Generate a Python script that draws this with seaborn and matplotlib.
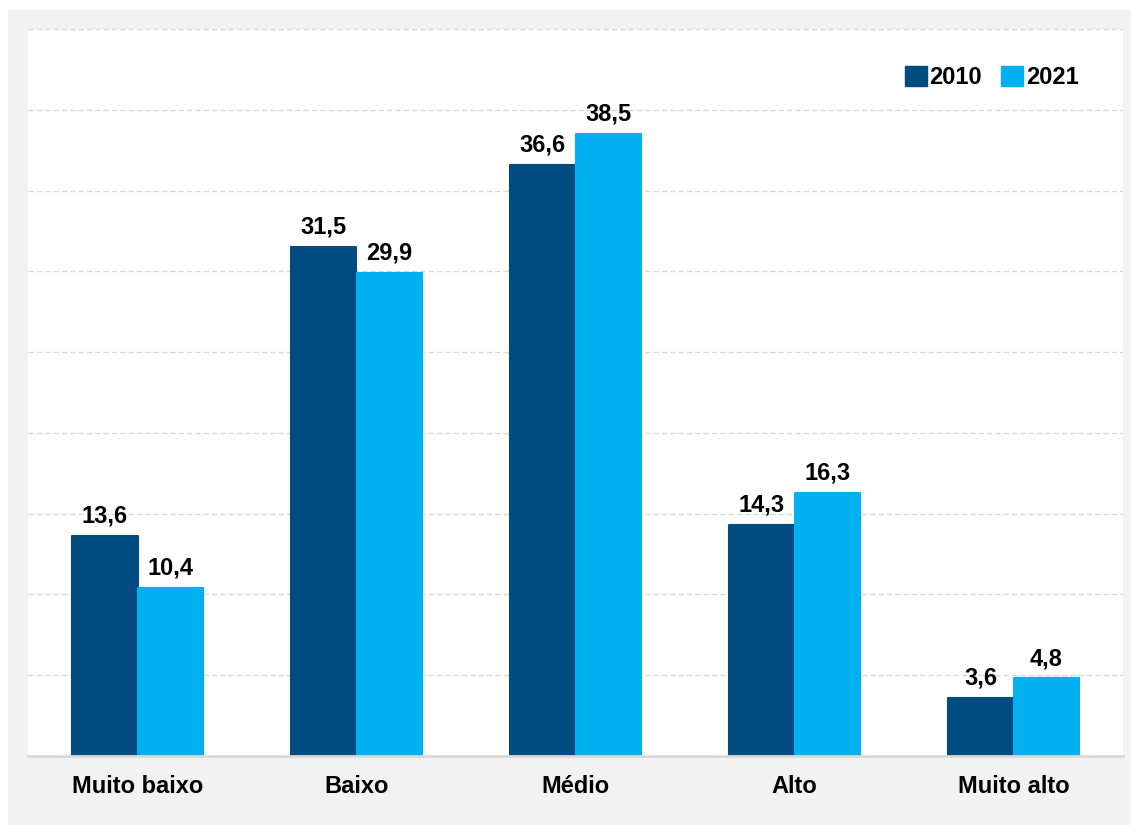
import pandas as pd
import numpy as np
import matplotlib.pyplot as plt
import seaborn as sns
from matplotlib.patches import Rectangle, FancyBboxPatch

# ----------------------------------------------------------------------
# data
# ----------------------------------------------------------------------
categories = ["Muito baixo", "Baixo", "Médio", "Alto", "Muito alto"]
years = ["2010", "2021"]
values_2010 = [13.6, 31.5, 36.6, 14.3, 3.6]
values_2021 = [10.4, 29.9, 38.5, 16.3, 4.8]

colors = {"2010": "#004B80", "2021": "#00B0F0"}

df = pd.DataFrame({
    "categoria": categories * 2,
    "ano": ["2010"] * len(categories) + ["2021"] * len(categories),
    "valor": values_2010 + values_2021,
})

# ----------------------------------------------------------------------
# figure
# ----------------------------------------------------------------------
sns.set_style("white")
plt.rcParams['font.family'] = ['Liberation Sans', 'DejaVu Sans']
plt.rcParams['text.color'] = 'black'

fig = plt.figure(figsize=(11.31, 8.25), dpi=100)
fig.patch.set_facecolor("white")
# gray panel behind the plot
fig.patches.append(Rectangle((8 / 1131, 0), 1 - 8 / 1131, 1 - 10 / 825,
                             transform=fig.transFigure, facecolor="#f2f2f2",
                             edgecolor="none", zorder=-10))

ax = fig.add_axes([28 / 1131, (825 - 756) / 825, 1095 / 1131, (756 - 29) / 825])
ax.set_facecolor("white")

sns.barplot(data=df, x="categoria", y="valor", hue="ano", order=categories,
            hue_order=years, palette=colors, width=0.6, gap=0, ax=ax,
            saturation=1, legend=False, zorder=3)

for bar in ax.patches:
    bar.set_edgecolor(bar.get_facecolor())
    bar.set_linewidth(1.5)
    bar.set_joinstyle("round")

for cont in ax.containers:
    labels = [f"{v:.1f}".replace(".", ",") for v in cont.datavalues]
    ax.bar_label(cont, labels=labels, padding=6, fontsize=17, fontweight="bold",
                 color="black")

ax.set_xlim(-0.5, 4.5)
ax.set_ylim(0, 45)
ax.set_yticks(np.arange(5, 50, 5))
ax.set_yticklabels([])
ax.tick_params(axis="y", length=0)
ax.yaxis.grid(True, linestyle=(0, (4, 2)), color="#d9d9d9", linewidth=1)
ax.set_axisbelow(True)

ax.tick_params(axis="x", length=0, pad=14, labelcolor="black")
for lbl in ax.get_xticklabels():
    lbl.set_fontsize(17)
    lbl.set_fontweight("bold")
ax.set_xlabel("")
ax.set_ylabel("")

for side in ["top", "left", "right"]:
    ax.spines[side].set_visible(False)
ax.spines["bottom"].set_color("#d9d9d9")
ax.spines["bottom"].set_linewidth(2)
ax.spines["bottom"].set_zorder(4)

# legend
handles = [FancyBboxPatch((0, 0), 1, 1, boxstyle="round,pad=0.1",
                          facecolor=colors[y], edgecolor=colors[y]) for y in years]
ax.legend(handles, years, loc="upper right", bbox_to_anchor=(0.968, 0.962),
          ncol=2, frameon=False, handlelength=0.95, handleheight=0.95,
          handletextpad=0.1, columnspacing=0.8, borderaxespad=0,
          labelcolor="black", prop={"size": 17, "weight": "bold"})

fig.savefig("out.png", dpi=100)
